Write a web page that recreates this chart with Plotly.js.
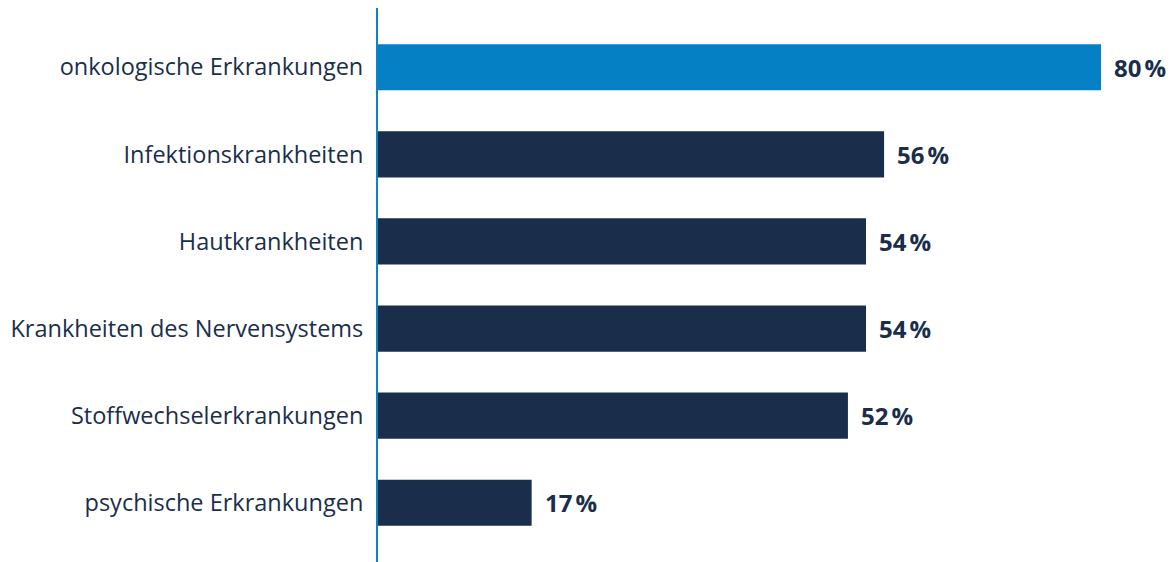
<!DOCTYPE html>
<html>
<head>
<meta charset="utf-8">
<script src="https://cdn.plot.ly/plotly-3.0.1.min.js"></script>
<style>html,body{margin:0;padding:0;background:#fff;}#chart{width:1176px;height:562px;}</style>
</head>
<body>
<div id="chart"></div>
<script>
const categories = ["onkologische Erkrankungen","Infektionskrankheiten","Hautkrankheiten","Krankheiten des Nervensystems","Stoffwechselerkrankungen","psychische Erkrankungen"];
const values = [80, 56, 54, 54, 52, 17];
const valueLabels = ["80\u202F%","56\u202F%","54\u202F%","54\u202F%","52\u202F%","17\u202F%"];
const barColors = ["#0580c4","#1a2e4c","#1a2e4c","#1a2e4c","#1a2e4c","#1a2e4c"];

const trace = {
  type: 'bar', orientation: 'h',
  x: values, y: categories,
  marker: {color: barColors},
  width: 0.53,
  hoverinfo: 'none'
};
const annotations = values.map((v,i)=>({
  x: v, y: categories[i], xref:'x', yref:'y',
  text: valueLabels[i], showarrow:false, xanchor:'left', xshift: 11,
  font:{family:'Open Sans, sans-serif', size:24, color:'#1a2e4c', weight:700}
}));
const layout = {
  width:1176, height:562,
  margin:{l:378, r:0, t:8, b:0},
  paper_bgcolor:'#fff', plot_bgcolor:'#fff',
  showlegend:false,
  xaxis:{range:[0,88.3], showgrid:false, zeroline:false, showticklabels:false, showline:false},
  yaxis:{type:'category', categoryorder:'array', categoryarray:categories, range:[5.68,-0.68],
    showgrid:false, zeroline:false, showline:true, linecolor:'#0a84c6', linewidth:2,
    ticks:'', ticklabelstandoff:8,
    tickfont:{family:'Open Sans, sans-serif', size:23.5, color:'#1a2e4c'}},
  annotations: annotations
};
Plotly.newPlot('chart',[trace],layout,{displayModeBar:false, staticPlot:true});
</script>
</body>
</html>
